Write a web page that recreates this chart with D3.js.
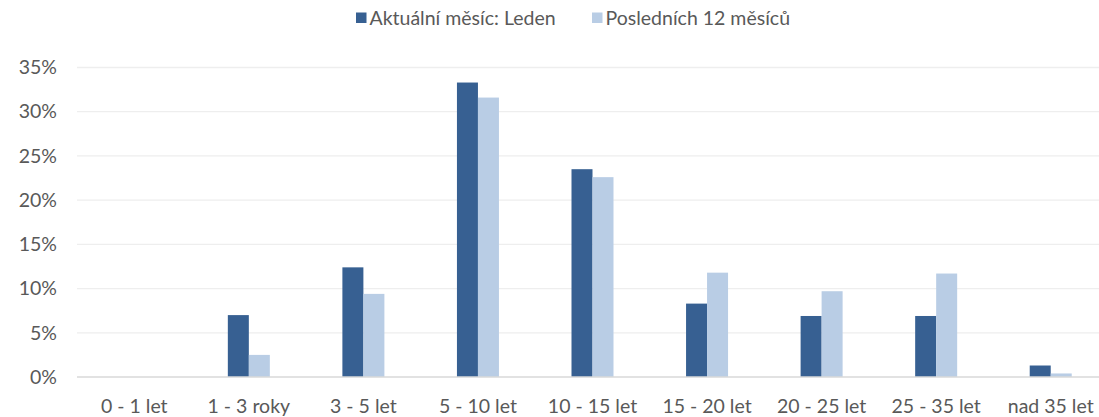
<!DOCTYPE html>
<html><head><meta charset="utf-8">
<script src="https://cdn.jsdelivr.net/npm/d3@7"></script>
<style>body{margin:0;background:#fff;}svg{display:block;font-family:Lato,"Open Sans",sans-serif;}</style>
</head><body>
<svg id="c" width="1099" height="417"></svg>
<script>
const categories = ["0 - 1 let","1 - 3 roky","3 - 5 let","5 - 10 let","10 - 15 let","15 - 20 let","20 - 25 let","25 - 35 let","nad 35 let"];
const seriesNames = ["Aktuální měsíc: Leden","Posledních 12 měsíců"];
const currentMonth = [0, 7.0, 12.4, 33.3, 23.5, 8.3, 6.9, 6.9, 1.3];
const last12Months = [0, 2.5, 9.4, 31.6, 22.6, 11.8, 9.7, 11.7, 0.4];
const yTicks = [0,5,10,15,20,25,30,35];
const colors = ["#376092","#B9CDE5"];

const FS = "19.5px";
const svg = d3.select("#c");
const x = d3.scaleBand().domain(categories).range([77,1108]).paddingInner(0).paddingOuter(0);
const y = d3.scaleLinear().domain([0,35]).range([377,67.5]);
const barW = 21;

// gridlines
svg.append("g").selectAll("line").data(yTicks.filter(d=>d>0)).join("line")
  .attr("x1",77).attr("x2",1099).attr("y1",d=>y(d)).attr("y2",d=>y(d))
  .attr("stroke","#EEEEEE").attr("stroke-width",1.3);

// y axis labels
const yAxis = d3.axisLeft(y).tickValues(yTicks).tickFormat(d=>d+"%").tickSize(0).tickPadding(0);
const ya = svg.append("g").attr("transform","translate(57,0)").call(yAxis);
ya.select(".domain").remove();
ya.selectAll("text").attr("fill","#595959").style("font-size",FS).style("font-family","Lato,'Open Sans',sans-serif");

const data = [currentMonth, last12Months];
data.forEach((vals,si)=>{
  svg.append("g").selectAll("rect").data(vals.map((v,i)=>({v,c:categories[i]}))).join("rect")
    .attr("x",d=>x(d.c)+x.bandwidth()/2 - barW + si*barW)
    .attr("width",barW)
    .attr("y",d=>y(d.v))
    .attr("height",d=>y(0)-y(d.v))
    .attr("fill",colors[si]);
});

// x axis
const xAxis = d3.axisBottom(x).tickSize(0).tickPadding(22);
const xa = svg.append("g").attr("transform","translate(0,377)").call(xAxis);
xa.select(".domain").remove();
xa.selectAll("text").attr("fill","#595959").style("font-size",FS).style("font-family","Lato,'Open Sans',sans-serif");
svg.append("line").attr("x1",77).attr("x2",1099).attr("y1",y(0)).attr("y2",y(0)).attr("stroke","#D9D9D9").attr("stroke-width",1.5);

// legend
const leg = svg.append("g");
const legX = [356, 592];
seriesNames.forEach((n,i)=>{
  leg.append("rect").attr("x",legX[i]).attr("y",12.5).attr("width",10.5).attr("height",10.5).attr("fill",colors[i]);
  leg.append("text").attr("x",legX[i]+13.5).attr("y",25).text(n)
    .attr("fill","#595959").style("font-size",FS);
});
</script>
</body></html>
